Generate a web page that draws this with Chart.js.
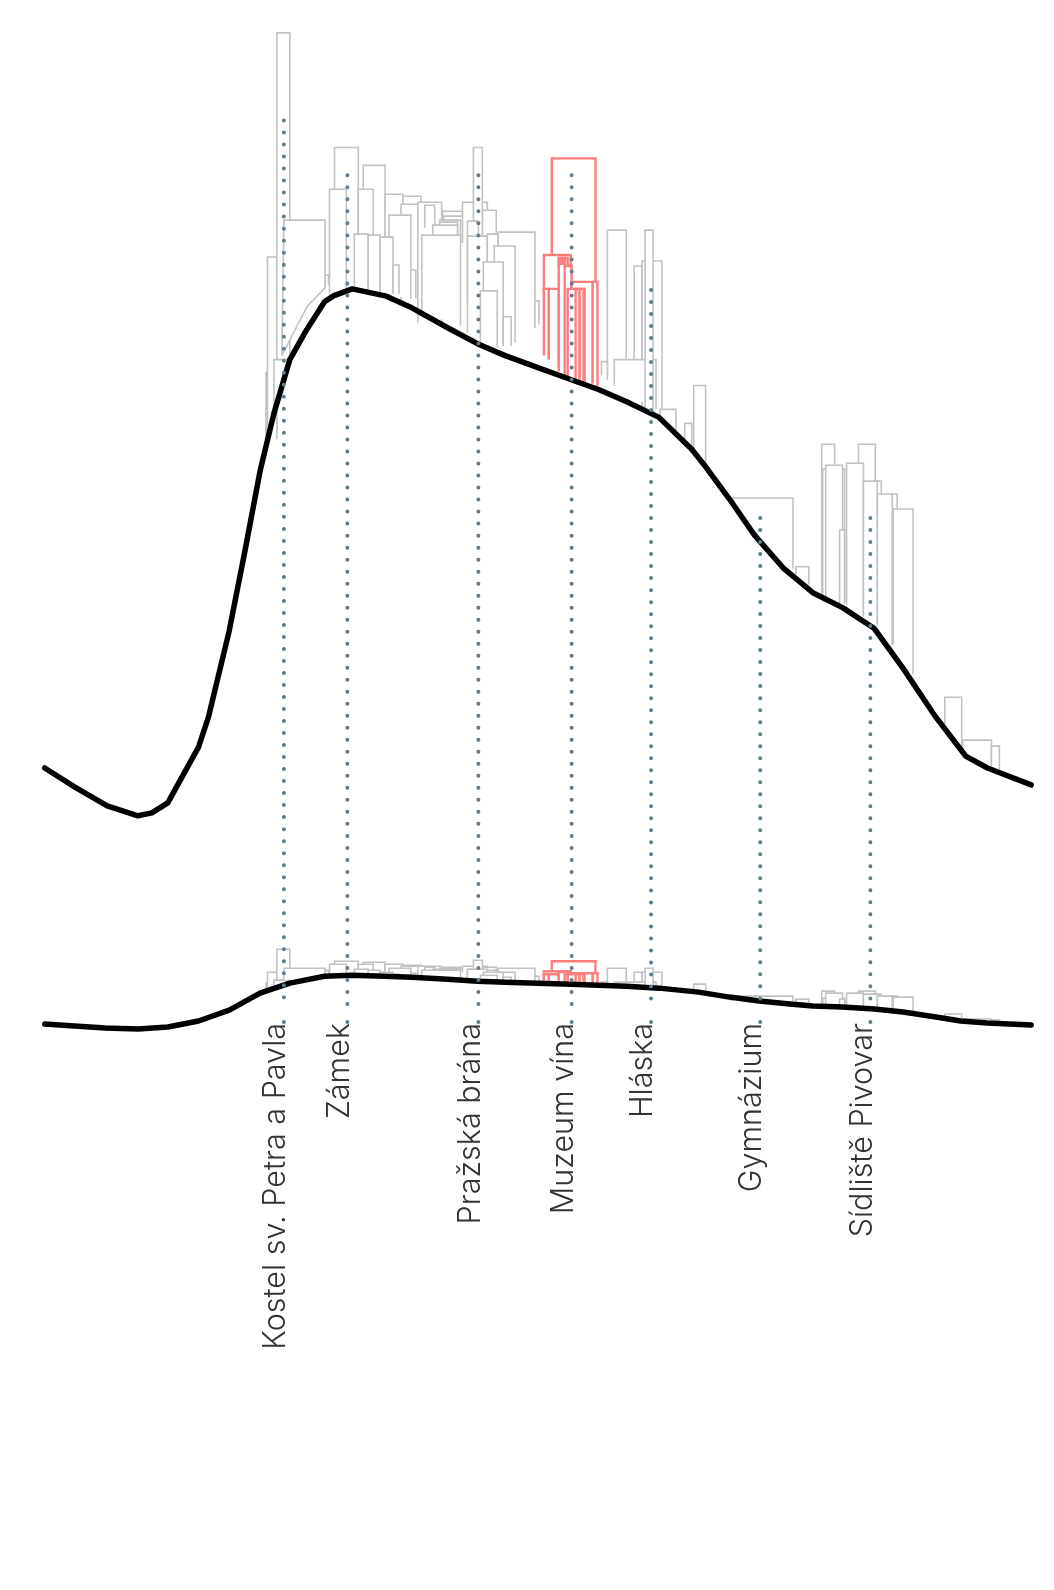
<!DOCTYPE html>
<html lang="cs">
<head>
<meta charset="utf-8">
<title>Profil města</title>
<script src="https://cdn.jsdelivr.net/npm/chart.js@4/dist/chart.umd.min.js"></script>
<style>
html, body { margin: 0; padding: 0; background: #fff; }
#wrap { width: 1054px; height: 1590px; }
</style>
</head>
<body>
<div id="wrap"><canvas id="myChart"></canvas></div>
<script>
// landmarks
var placeNames = ['Kostel sv. Petra a Pavla', 'Zámek', 'Pražská brána', 'Muzeum vína', 'Hláska', 'Gymnázium', 'Sídliště Pivovar']
var placeX = [282, 346, 478, 572, 652, 762, 873]
var placeTop = [905, 850, 850, 850, 735, 506, 506]

// terrain, upper profile is exaggerated, lower one is nearly true scale
var terrainX = [41, 71, 104, 135, 149, 165, 196, 206, 227, 243, 258, 272, 288, 305, 323, 332, 351, 384, 411, 447, 477, 505, 538, 571, 599, 627, 660, 693, 705, 731, 756, 785, 815, 845, 877, 906, 939, 969, 991, 1035]
var terrainY = [255, 236, 217, 207, 210, 220, 276, 306, 393, 474, 553, 611, 665, 695, 723, 729, 736, 729, 717, 697, 681, 669, 657, 645, 635, 623, 607, 575, 560, 525, 489, 456, 431, 416, 395, 355, 306, 267, 255, 238]
var lowTerrainX = [41, 71, 102, 135, 165, 196, 227, 258, 288, 323, 350, 384, 411, 447, 477, 505, 538, 571, 627, 660, 700, 731, 761, 792, 815, 845, 877, 906, 939, 964, 991, 1035]
var lowTerrainY = [-2, -4, -6, -7, -5, 1, 12, 29, 39, 46, 47, 46, 45, 43, 41, 40, 39, 38, 36, 34, 30, 25, 21, 18, 16, 15, 13, 10, 5, 1, -1, -3]

// grey buildings, painted back to front
var greyLeft = [264, 265.5, 275, 323.5, 272, 333, 328, 362, 357, 384, 402, 400, 388, 353, 367, 379, 392, 410, 417, 424, 442, 443, 439, 439, 432, 421, 462, 482, 473, 467, 467, 487, 498, 535, 494, 483, 503, 480, 608, 635, 643, 615, 602, 646, 661, 686, 695, 733, 798, 824, 825, 828, 842, 861, 878, 895, 849, 866, 880, 896, 948, 966, 995]
var greyRight = [265.5, 275, 288, 327, 287, 357, 345, 384, 372, 402, 420, 425, 410, 367, 379, 392, 398, 415, 441, 434, 462, 467, 460, 457, 457, 460, 487, 496, 482, 478, 487, 498, 535, 539, 515, 503, 511, 497, 627, 643, 663, 657, 608, 654, 677, 693, 707, 795, 811, 837, 847, 845, 847, 878, 884, 900, 866, 880, 895, 916, 965, 995, 1003]
var greyTop = [652, 768, 993, 750, 665, 878, 836, 860, 836, 831, 829, 821, 810, 791, 790, 788, 760, 755, 823, 820, 814, 809, 805, 803, 800, 790, 823, 815, 878, 804, 789, 791, 793, 724, 779, 763, 708, 734, 795, 759, 764, 665, 663, 795, 615, 601, 639, 526, 457, 580, 555, 559, 494, 580, 543, 530, 561, 543, 530, 515, 326, 283, 277]
var greyFootL = [582, 585, 665, 740, 610, 732, 732, 732, 732, 729, 722, 722, 729, 737, 735, 732, 732, 726, 702, 797, 722, 722, 782, 782, 782, 712, 782, 782, 682, 782, 692, 677, 697, 697, 682, 677, 679, 677, 644, 665, 615, 639, 649, 617, 606, 584, 573, 524, 449, 430, 422, 425, 420, 522, 502, 502, 419, 407, 399, 379, 299, 270, 255]
var greyFootR = [582, 585, 665, 740, 664, 735, 735, 732, 732, 729, 722, 722, 727, 736, 734, 731, 731, 726, 702, 797, 722, 722, 782, 782, 782, 699, 782, 792, 677, 782, 677, 677, 697, 700, 682, 679, 679, 677, 644, 665, 615, 615, 649, 611, 592, 577, 559, 455, 439, 430, 422, 425, 420, 522, 502, 502, 407, 399, 379, 349, 272, 255, 254]
var greyLowTop = [39, 50, 73, 52, 42, 61, 58, 60, 58, 58, 57, 56, 54, 53, 52, 50, 48, 49, 56, 55, 55, 54, 54, 53, 53, 52, 56, 55, 62, 53, 53, 52, 54, 46, 50, 50, 45, 47, 54, 50, 50, 40, 40, 54, 34, 31, 38, 26, 23, 31, 24, 29, 23, 31, 28, 26, 29, 28, 26, 25, 8, 3, 2]
var greyLowFoot = [32, 36, 39, 46, 37, 46, 46, 46, 46, 45, 45, 45, 45, 46, 46, 45, 45, 44, 43, 52, 43, 42, 50, 50, 50, 42, 50, 50, 41, 50, 41, 40, 40, 40, 40, 40, 40, 40, 37, 37, 35, 36, 37, 35, 34, 31, 30, 21, 18, 16, 16, 16, 15, 27, 24, 22, 15, 14, 13, 11, 4, 1, 0]

// the block by the church, its foot runs along the slope
var blockX = [280, 282, 323.5, 323.5, 306, 302, 280]
var blockY = [669, 805, 805, 737, 719, 712, 669]
var lowBlockX = [282, 282, 323.5, 323.5]
var lowBlockY = [42, 54, 54, 47]

// highlighted buildings around the wine museum
var redLeft = [552, 544, 544, 549, 559, 559, 561, 565, 593, 572, 568, 576, 580]
var redRight = [596, 571, 549, 559, 568, 565, 563, 572, 598, 593, 585, 580, 584]
var redTop = [867, 770, 736, 736, 767, 767, 765, 759, 743, 743, 736, 736, 736]
var redFootL = [742, 732, 669, 665, 653, 758, 760, 647, 641, 650, 646, 644, 643]
var redFootR = [742, 732, 665, 656, 650, 758, 760, 644, 638, 641, 641, 642, 641]
var redLowTop = [61, 51, 48, 48, 51, 51, 51, 48, 49, 49, 48, 48, 48]
var redLowFoot = [40, 40, 39, 39, 38, 49, 49, 38, 37, 37, 37, 37, 37]

function toPoints(xs, ys) {
    var pts = []
    for (var i = 0; i < xs.length; i++) {
        pts.push({ x: xs[i], y: ys[i] })
    }
    return pts
}

// open outline, no line along the foot, white inside so it hides what is behind
function outline(left, right, top, footL, footR, color, width) {
    return {
        data: [{ x: left, y: footL }, { x: left, y: top }, { x: right, y: top }, { x: right, y: footR }],
        showLine: true,
        borderColor: color,
        borderWidth: width,
        backgroundColor: '#ffffff',
        fill: 'shape',
        pointRadius: 0,
        clip: false
    }
}

function buildingSets(left, right, top, footL, footR, lowTop, lowFoot, color, width) {
    var sets = []
    for (var i = 0; i < left.length; i++) {
        sets.push(outline(left[i], right[i], lowTop[i], lowFoot[i], lowFoot[i], color, width))
        sets.push(outline(left[i], right[i], top[i], footL[i], footR[i], color, width))
    }
    // chart.js paints the first dataset last
    return sets.reverse()
}

function profile(xs, ys) {
    return {
        data: toPoints(xs, ys),
        showLine: true,
        borderColor: '#000000',
        borderWidth: 5.5,
        borderCapStyle: 'round',
        borderJoinStyle: 'round',
        pointRadius: 0,
        clip: false
    }
}

var datasets = []
var stemColor = '#5f7d8e'
var stemFeet = []
for (var i = 0; i < placeX.length; i++) {
    stemFeet.push(0)
    datasets.push({
        data: [{ x: placeX[i], y: placeTop[i] }, { x: placeX[i], y: 14 }],
        showLine: true,
        borderColor: stemColor,
        borderWidth: 4,
        borderDash: [0, 12.01],
        borderCapStyle: 'round',
        pointRadius: 0,
        clip: false
    })
}
datasets.push({
    data: toPoints(placeX, stemFeet),
    showLine: false,
    pointRadius: 2,
    pointBackgroundColor: stemColor,
    pointBorderWidth: 0,
    clip: false
})
datasets.push(profile(terrainX, terrainY))
datasets.push(profile(lowTerrainX, lowTerrainY))
datasets = datasets.concat(buildingSets(redLeft, redRight, redTop, redFootL, redFootR, redLowTop, redLowFoot, '#ff7d7d', 2.4))

var blockSet = outline(0, 0, 0, 0, 0, '#c2c2c2', 1.6)
blockSet.data = toPoints(blockX, blockY)
var lowBlockSet = outline(0, 0, 0, 0, 0, '#c2c2c2', 1.6)
lowBlockSet.data = toPoints(lowBlockX, lowBlockY)
datasets.push(blockSet, lowBlockSet)
datasets = datasets.concat(buildingSets(greyLeft, greyRight, greyTop, greyFootL, greyFootR, greyLowTop, greyLowFoot, '#c2c2c2', 1.6))

var ctx = document.querySelector('#myChart').getContext('2d')
var myChart = new Chart(ctx, {
    type: 'scatter',
    data: { datasets: datasets },
    options: {
        responsive: true,
        maintainAspectRatio: false,
        animation: false,
        layout: { padding: 0 },
        plugins: { legend: { display: false }, tooltip: { enabled: false } },
        scales: {
            x: {
                type: 'linear',
                min: 0,
                max: 1054,
                grid: { display: false },
                border: { display: false },
                afterBuildTicks: function (scale) {
                    scale.ticks = placeX.map(function (v) { return { value: v } })
                },
                afterFit: function (scale) {
                    // baseline of the plot sits at 1022 of the 1590 high page
                    scale.height = 568
                },
                ticks: {
                    autoSkip: false,
                    minRotation: 90,
                    maxRotation: 90,
                    padding: -7,
                    labelOffset: -8,
                    color: '#333333',
                    font: { family: 'Inter', size: 30.5, weight: '300' },
                    callback: function (value, index) { return placeNames[index] }
                }
            },
            y: { display: false, min: 0, max: 1022 }
        }
    }
})
</script>
</body>
</html>
